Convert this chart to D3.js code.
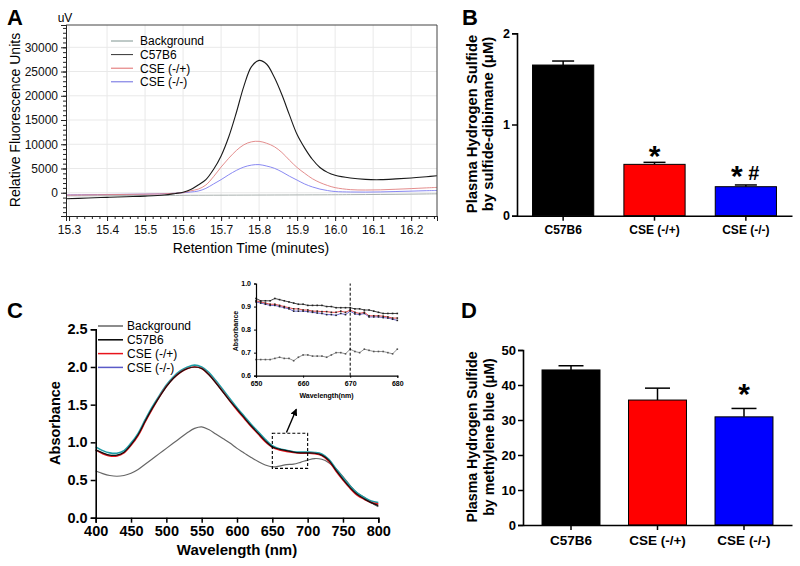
<!DOCTYPE html>
<html><head><meta charset="utf-8">
<script src="https://cdn.jsdelivr.net/npm/d3@7"></script>
<style>body{margin:0;background:#fff}svg{display:block}</style>
</head><body><svg id="c" width="800" height="566"></svg>
<script>
// ---------------- DATA ----------------
// Panel A: HPLC chromatogram
const seriesNames = ["Background", "C57B6", "CSE (-/+)", "CSE (-/-)"];
const hplcTime = [15.29,15.35,15.40,15.45,15.50,15.55,15.58,15.60,15.62,15.64,15.66,15.68,15.70,15.72,15.74,15.76,15.78,15.80,15.82,15.84,15.86,15.88,15.90,15.92,15.94,15.96,15.98,16.00,16.04,16.08,16.12,16.16,16.20,16.24,16.268];
const hplcBackground = [-650,-630,-610,-590,-570,-555,-545,-535,-525,-520,-515,-510,-505,-500,-495,-490,-485,-480,-475,-470,-465,-460,-455,-450,-445,-440,-430,-420,-400,-380,-350,-320,-290,-250,-220];
const hplcC57B6 = [-1250,-1100,-950,-820,-700,-480,-150,100,650,1600,2700,4800,7600,11500,16500,22000,26000,27300,26500,23800,20200,16000,12000,9200,6900,5200,4200,3600,3030,2750,2700,2850,3050,3300,3500];
const hplcHet = [-500,-450,-400,-350,-300,-220,-100,20,400,750,1600,3300,5300,7100,8700,9900,10500,10600,10200,9500,8300,6700,5200,4000,2900,2100,1500,1050,640,560,600,720,850,1000,1100];
const hplcKO = [-450,-400,-360,-320,-280,-200,-100,0,150,350,900,1800,2700,3700,4600,5300,5700,5800,5500,5050,4300,3400,2600,1800,1200,750,450,250,150,130,170,250,330,420,460];
const hplcXTicks = [15.3,15.4,15.5,15.6,15.7,15.8,15.9,16.0,16.1,16.2];
const hplcYTicks = [0,5000,10000,15000,20000,25000,30000];

// Panels B and D: bar charts
const groups = ["C57B6", "CSE (-/+)", "CSE (-/-)"];
const dibimaneMean = [1.652, 0.563, 0.318];
const dibimaneSem = [0.044, 0.022, 0.019];
const dibimaneTicks = [0, 1, 2];
const mbMean = [44.3, 35.7, 30.9];
const mbSem = [1.2, 3.4, 2.4];
const mbTicks = [0, 10, 20, 30, 40, 50];
const barColors = ["#000000", "#ff0000", "#0000ff"];

// Panel C: absorbance spectra
const wavelength = d3.range(400, 801, 10);
const absBackground = [0.62,0.585,0.56,0.55,0.56,0.59,0.64,0.71,0.78,0.85,0.92,0.99,1.06,1.13,1.185,1.205,1.17,1.11,1.05,0.99,0.92,0.86,0.8,0.745,0.7,0.675,0.685,0.705,0.71,0.735,0.765,0.785,0.775,0.73,0.65,0.545,0.43,0.33,0.27,0.2,0.145];
const absC57B6 = [0.9,0.86,0.83,0.83,0.87,0.97,1.1,1.28,1.45,1.6,1.74,1.85,1.93,1.98,2.0,1.98,1.9,1.79,1.67,1.55,1.44,1.33,1.22,1.12,1.02,0.94,0.91,0.89,0.87,0.86,0.86,0.855,0.83,0.76,0.63,0.51,0.4,0.31,0.25,0.2,0.16];
const absHet = [0.9,0.85,0.82,0.82,0.86,0.96,1.09,1.27,1.44,1.6,1.74,1.85,1.93,1.98,2.0,1.98,1.9,1.79,1.67,1.55,1.43,1.32,1.21,1.11,1.01,0.935,0.9,0.88,0.865,0.855,0.855,0.85,0.825,0.75,0.62,0.5,0.39,0.3,0.245,0.2,0.18];
const absKO = [0.94,0.89,0.86,0.855,0.89,0.99,1.12,1.3,1.47,1.62,1.76,1.87,1.95,2.0,2.025,2.0,1.93,1.82,1.7,1.58,1.46,1.35,1.24,1.14,1.04,0.955,0.915,0.895,0.875,0.87,0.87,0.865,0.845,0.775,0.65,0.53,0.42,0.33,0.27,0.22,0.2];
const absXTicks = [400,450,500,550,600,650,700,750,800];
const absYTicks = [0,0.5,1.0,1.5,2.0,2.5];

// Panel C inset: 650-680 nm
const insetWl = d3.range(650, 681, 1);
const insetBackground = [0.67,0.67,0.67,0.67,0.675,0.68,0.675,0.675,0.665,0.68,0.69,0.69,0.685,0.685,0.685,0.68,0.69,0.7,0.7,0.695,0.715,0.705,0.7,0.715,0.71,0.705,0.705,0.705,0.7,0.695,0.715];
const insetC57B6 = [0.935,0.925,0.925,0.925,0.935,0.93,0.925,0.92,0.915,0.91,0.91,0.905,0.905,0.905,0.905,0.9,0.9,0.895,0.895,0.895,0.895,0.89,0.89,0.885,0.885,0.88,0.875,0.87,0.87,0.87,0.87];
const insetHet = [0.925,0.92,0.915,0.91,0.91,0.905,0.9,0.895,0.89,0.89,0.885,0.885,0.88,0.88,0.878,0.878,0.875,0.875,0.88,0.875,0.885,0.875,0.87,0.875,0.86,0.86,0.86,0.858,0.855,0.85,0.85];
const insetKO = [0.92,0.915,0.91,0.905,0.905,0.9,0.895,0.89,0.88,0.88,0.88,0.878,0.875,0.872,0.87,0.865,0.865,0.862,0.87,0.865,0.88,0.868,0.865,0.87,0.855,0.855,0.855,0.852,0.85,0.845,0.84];
const insetXTicks = [650,660,670,680];
const insetYTicks = [0.6,0.7,0.8,0.9,1.0];

// ---------------- DRAW ----------------
const F = 'Arial, "Liberation Sans", Helvetica, sans-serif';
const svg = d3.select("#c").attr("font-family", F);
svg.append("rect").attr("width", 800).attr("height", 566).attr("fill", "#fff");

function txt(g, x, y, s, o = {}) {
  const t = g.append("text").attr("x", x).attr("y", y).text(s)
    .attr("font-size", o.size || 12).attr("font-weight", o.bold ? "bold" : "normal")
    .attr("text-anchor", o.anchor || "start").attr("fill", o.fill || "#000");
  if (o.rotate) t.attr("transform", `rotate(${o.rotate},${x},${y})`);
  return t;
}

// Panel labels
txt(svg, 7, 25, "A", {size: 22, bold: true});
txt(svg, 462, 25, "B", {size: 22, bold: true});
txt(svg, 7, 318, "C", {size: 22, bold: true});
txt(svg, 461, 318, "D", {size: 22, bold: true});

// ===== Panel A =====
{
  const g = svg.append("g");
  const x = d3.scaleLinear().domain([15.292, 16.268]).range([66, 437]);
  const y = d3.scaleLinear().domain([-4800, 34600]).range([216, 25]);
  g.selectAll(".gx").data(hplcXTicks).join("line")
    .attr("x1", d => x(d)).attr("x2", d => x(d)).attr("y1", 25).attr("y2", 216)
    .attr("stroke", "#e9e9e9").attr("stroke-width", 1);
  g.selectAll(".gy").data(hplcYTicks).join("line")
    .attr("x1", 66).attr("x2", 437).attr("y1", d => y(d)).attr("y2", d => y(d))
    .attr("stroke", "#e9e9e9").attr("stroke-width", 1);
  g.append("clipPath").attr("id", "clipA").append("rect")
    .attr("x", 66).attr("y", 25).attr("width", 371).attr("height", 191);
  const line = d3.line().x((d, i) => x(hplcTime[i])).y(d => y(d)).curve(d3.curveCatmullRom.alpha(0.5));
  const sA = [
    {v: hplcBackground, c: "#a8b0ae", w: 1},
    {v: hplcKO, c: "#7c7cf0", w: 0.9},
    {v: hplcHet, c: "#e08080", w: 0.9},
    {v: hplcC57B6, c: "#1a1a1a", w: 1.1}
  ];
  sA.forEach(s => g.append("path").attr("d", line(s.v)).attr("fill", "none")
    .attr("stroke", s.c).attr("stroke-width", s.w).attr("clip-path", "url(#clipA)"));
  g.append("path").attr("d", `M66,25H437V216`).attr("fill", "none").attr("stroke", "#444").attr("stroke-width", 1);
  const minorX = d3.range(15.30, 16.27, 0.02);
  const ax = g.append("g").attr("transform", "translate(0,216)");
  ax.call(d3.axisBottom(x).tickValues(minorX).tickSize(3).tickFormat(""));
  const axM = g.append("g").attr("transform", "translate(0,216)");
  axM.call(d3.axisBottom(x).tickValues(hplcXTicks).tickSize(5).tickPadding(4).tickFormat(d3.format(".1f")));
  const minorY = d3.range(-4000, 34001, 1000);
  const ay = g.append("g").attr("transform", "translate(66,0)");
  ay.call(d3.axisLeft(y).tickValues(minorY).tickSize(3).tickFormat(""));
  const ayM = g.append("g").attr("transform", "translate(66,0)");
  ayM.call(d3.axisLeft(y).tickValues(hplcYTicks).tickSize(5).tickPadding(3).tickFormat(d3.format("d")));
  [ax, axM, ay, ayM].forEach(a => {
    a.selectAll(".domain").attr("stroke", "#222");
    a.selectAll(".tick line").attr("stroke", "#222");
    a.selectAll("text").attr("font-size", 12).attr("font-family", F).attr("fill", "#111");
  });
  txt(g, 65, 22, "uV", {size: 12, anchor: "middle"});
  txt(g, 251, 253, "Retention Time (minutes)", {size: 14, anchor: "middle"});
  txt(g, 20, 120, "Relative Fluorescence Units", {size: 14, anchor: "middle", rotate: -90});
  const legC = ["#7e9490", "#333", "#e06a6a", "#6a6ae0"];
  seriesNames.forEach((n, i) => {
    const yy = 41 + i * 13.6;
    g.append("line").attr("x1", 111).attr("x2", 133).attr("y1", yy).attr("y2", yy)
      .attr("stroke", legC[i]).attr("stroke-width", 1);
    txt(g, 140, yy + 4.3, n, {size: 12});
  });
}

// ===== Bar panel helper =====
function barPanel(o) {
  const g = svg.append("g");
  const x = d3.scaleBand().domain(groups).range([o.x0, o.x1]).paddingInner(0.33).paddingOuter(o.po);
  const y = d3.scaleLinear().domain(o.domain).range([o.yb, o.yt]);
  o.mean.forEach((m, i) => {
    const cx = x(groups[i]) + x.bandwidth() / 2;
    g.append("line").attr("x1", cx).attr("x2", cx).attr("y1", y(m)).attr("y2", y(m + o.sem[i]))
      .attr("stroke", "#000").attr("stroke-width", 1.5);
    g.append("line").attr("x1", cx - o.cap).attr("x2", cx + o.cap).attr("y1", y(m + o.sem[i])).attr("y2", y(m + o.sem[i]))
      .attr("stroke", "#000").attr("stroke-width", 1.5);
  });
  g.selectAll(".bar").data(o.mean).join("rect")
    .attr("x", (d, i) => x(groups[i])).attr("width", x.bandwidth())
    .attr("y", d => y(d)).attr("height", d => y(0) - y(d))
    .attr("fill", (d, i) => barColors[i]).attr("stroke", "#000").attr("stroke-width", 1);
  const ay = g.append("g").attr("transform", `translate(${o.x0},0)`)
    .call(d3.axisLeft(y).tickValues(o.ticks).tickSize(5).tickPadding(2).tickFormat(d3.format("d")));
  const ax = g.append("g").attr("transform", `translate(0,${o.yb})`)
    .call(d3.axisBottom(x).tickSize(5).tickSizeOuter(0).tickPadding(5));
  [ax, ay].forEach(a => {
    a.selectAll(".domain").attr("stroke", "#000").attr("stroke-width", 1.6);
    a.selectAll(".tick line").attr("stroke", "#000").attr("stroke-width", 1.5);
    a.selectAll("text").attr("font-family", F).attr("font-weight", "bold").attr("fill", "#000");
  });
  ay.selectAll("text").attr("font-size", o.tickSize);
  ax.selectAll("text").attr("font-size", o.catSize);
  txt(g, o.lx, o.ly, "Plasma Hydrogen Sulfide", {size: o.labSize, bold: true, anchor: "middle", rotate: -90});
  txt(g, o.lx + o.lgap, o.ly, o.label2, {size: o.labSize, bold: true, anchor: "middle", rotate: -90});
  return {g, x, y};
}

function star(g, cx, cy) {
  txt(g, cx, cy + 14, "*", {size: 30, bold: true, anchor: "middle"});
}

// ===== Panel B =====
{
  const p = barPanel({x0: 517, x1: 792, po: 0.17, yb: 215.7, yt: 33.3, domain: [0, 2],
    mean: dibimaneMean, sem: dibimaneSem, ticks: dibimaneTicks, cap: 11,
    tickSize: 12.5, catSize: 12, labSize: 14.8, lx: 477, lgap: 16, ly: 124,
    label2: "by sulfide-dibimane (\u03bcM)"});
  const cx1 = p.x(groups[1]) + p.x.bandwidth() / 2;
  const cx2 = p.x(groups[2]) + p.x.bandwidth() / 2;
  star(p.g, cx1, 152);
  star(p.g, cx2 - 9, 172);
  txt(p.g, cx2 + 8, 179.5, "#", {size: 20, bold: true, anchor: "middle"});
}

// ===== Panel D =====
{
  const p = barPanel({x0: 523, x1: 792, po: 0.22, yb: 525, yt: 350, domain: [0, 50],
    mean: mbMean, sem: mbSem, ticks: mbTicks, cap: 12.5,
    tickSize: 13, catSize: 13.5, labSize: 14.2, lx: 477, lgap: 17, ly: 437,
    label2: "by methylene blue (\u03bcM)"});
  const cx2 = p.x(groups[2]) + p.x.bandwidth() / 2;
  star(p.g, cx2, 390);
}

// ===== Panel C =====
{
  const g = svg.append("g");
  const x = d3.scaleLinear().domain([400, 800]).range([95.7, 378.3]);
  const y = d3.scaleLinear().domain([0, 2.5]).range([517.7, 329.3]);
  const line = d3.line().x((d, i) => x(wavelength[i])).y(d => y(d)).curve(d3.curveCatmullRom.alpha(0.5));
  const sC = [
    {v: absBackground, c: "#666", w: 1.2},
    {v: absKO, c: "#1e9ea6", w: 1.6},
    {v: absHet, c: "#e8141c", w: 1.6},
    {v: absC57B6, c: "#111", w: 1.2}
  ];
  sC.forEach(s => g.append("path").attr("d", line(s.v)).attr("fill", "none")
    .attr("stroke", s.c).attr("stroke-width", s.w));
  g.append("rect").attr("x", x(650)).attr("y", y(1.12)).attr("width", x(700) - x(650)).attr("height", y(0.655) - y(1.12))
    .attr("fill", "none").attr("stroke", "#000").attr("stroke-width", 1.1).attr("stroke-dasharray", "3,2");
  const defs = svg.append("defs");
  defs.append("marker").attr("id", "arr").attr("viewBox", "0 0 10 10").attr("refX", 9).attr("refY", 5)
    .attr("markerWidth", 5).attr("markerHeight", 5).attr("orient", "auto")
    .append("path").attr("d", "M0,0L10,5L0,10z").attr("fill", "#000");
  g.append("line").attr("x1", x(670)).attr("y1", y(1.13)).attr("x2", x(684)).attr("y2", y(1.44))
    .attr("stroke", "#000").attr("stroke-width", 1.4).attr("marker-end", "url(#arr)");
  const ax = g.append("g").attr("transform", "translate(0,517.7)")
    .call(d3.axisBottom(x).tickValues(absXTicks).tickSize(5).tickPadding(3).tickFormat(d3.format("d")));
  const ay = g.append("g").attr("transform", "translate(95.7,0)")
    .call(d3.axisLeft(y).tickValues(absYTicks).tickSize(5).tickPadding(3).tickFormat(d3.format(".1f")));
  [ax, ay].forEach(a => {
    a.selectAll(".domain").attr("stroke", "#000").attr("stroke-width", 1.6);
    a.selectAll(".tick line").attr("stroke", "#000").attr("stroke-width", 1.5);
    a.selectAll("text").attr("font-family", F).attr("font-weight", "bold").attr("font-size", 14.5).attr("fill", "#000");
  });
  txt(g, 237, 555, "Wavelength (nm)", {size: 15, bold: true, anchor: "middle"});
  txt(g, 60, 423, "Absorbance", {size: 14.5, bold: true, anchor: "middle", rotate: -90});
  const legC = ["#666", "#000", "#e8141c", "#5a5ac8"];
  seriesNames.forEach((n, i) => {
    const yy = 326 + i * 13.8;
    g.append("line").attr("x1", 98).attr("x2", 123).attr("y1", yy).attr("y2", yy)
      .attr("stroke", legC[i]).attr("stroke-width", 1.5);
    txt(g, 127, yy + 4.3, n, {size: 12});
  });

  // inset
  const xi = d3.scaleLinear().domain([650, 680]).range([256, 397.3]);
  const yi = d3.scaleLinear().domain([0.6, 1.0]).range([375.7, 283.5]);
  const li = d3.line().x((d, i) => xi(insetWl[i])).y(d => yi(d));
  const sI = [
    {v: insetBackground, c: "#777"},
    {v: insetKO, c: "#4848c8"},
    {v: insetHet, c: "#e02020"},
    {v: insetC57B6, c: "#111"}
  ];
  sI.forEach(s => {
    g.append("path").attr("d", li(s.v)).attr("fill", "none").attr("stroke", s.c).attr("stroke-width", 0.8);
    g.selectAll(null).data(s.v).join("rect")
      .attr("x", (d, i) => xi(insetWl[i]) - 0.8).attr("y", d => yi(d) - 0.8)
      .attr("width", 1.6).attr("height", 1.6).attr("fill", s.c === "#777" ? "#555" : "#222");
  });
  g.append("line").attr("x1", xi(670)).attr("x2", xi(670)).attr("y1", yi(0.6)).attr("y2", yi(1.0))
    .attr("stroke", "#000").attr("stroke-width", 1).attr("stroke-dasharray", "3,2");
  const aix = g.append("g").attr("transform", "translate(0,375.7)")
    .call(d3.axisBottom(xi).tickValues(insetXTicks).tickSize(2).tickPadding(3).tickFormat(d3.format("d")));
  const aiy = g.append("g").attr("transform", "translate(256,0)")
    .call(d3.axisLeft(yi).tickValues(insetYTicks).tickSize(2).tickPadding(3).tickFormat(d3.format(".1f")));
  [aix, aiy].forEach(a => {
    a.selectAll(".domain").attr("stroke", "#000").attr("stroke-width", 1.2);
    a.selectAll(".tick line").attr("stroke", "#000");
    a.selectAll("text").attr("font-family", F).attr("font-weight", "bold").attr("font-size", 7).attr("fill", "#000");
  });
  txt(g, 326.5, 397.5, "Wavelength(nm)", {size: 7, bold: true, anchor: "middle"});
  txt(g, 237.5, 331, "Absorbance", {size: 7, bold: true, anchor: "middle", rotate: -90});
}
</script>
</body></html>
